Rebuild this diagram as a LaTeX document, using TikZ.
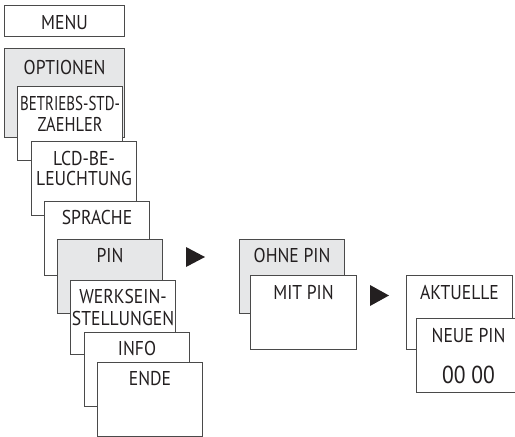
\documentclass[tikz,border=0pt]{standalone}
\usepackage{graphicx}
\usepackage{fontspec}
\setmainfont[FakeStretch=0.88]{PT Sans}
\definecolor{edge}{HTML}{4A4A4A}
\definecolor{panel}{HTML}{E6E7E8}
\definecolor{ink}{HTML}{231F20}
\begin{document}
\begin{tikzpicture}[x=1pt,y=-1pt,
  screen/.style={draw=edge, line width=1.1pt, fill=white, rectangle, inner sep=0pt, anchor=north west, minimum width=105pt, minimum height=74pt},
  shaded/.style={screen, fill=panel},
  lbl/.style={inner sep=0pt, anchor=base, text=ink, font=\fontsize{20}{20}\selectfont},
  big/.style={lbl, font=\fontsize{24.5}{24.5}\selectfont},
  tip/.style={fill=ink, draw=none}]
\useasboundingbox (0,0) rectangle (515,437);
% left column
\node[screen, minimum width=120pt, minimum height=31pt] (menu) at (4,5) {};
\node[lbl] (tmenu) at ([yshift=-24.3pt]menu.north) {MENU};
\node[shaded, minimum width=120pt, minimum height=89pt] (opt) at (4,48) {};
\node[lbl] (topt) at ([yshift=-26pt]opt.north) {OPTIONEN};
\node[screen] (betr) at (17,86) {};
\node[lbl] (tbetr1) at ([yshift=-24pt]betr.north) {\scalebox{0.85}[1]{BETRIEBS-STD-}};
\node[lbl] (tbetr2) at ([yshift=-45.7pt]betr.north) {\scalebox{0.93}[1]{ZAEHLER}};
\node[screen] (lcd) at (31,141) {};
\node[lbl] (tlcd1) at ([yshift=-24pt]lcd.north) {LCD-BE-};
\node[lbl] (tlcd2) at ([yshift=-44.7pt]lcd.north) {LEUCHTUNG};
\node[screen] (spr) at (44,201) {};
\node[lbl] (tspr) at ([yshift=-23.3pt]spr.north) {SPRACHE};
\node[shaded] (pin) at (57,239) {};
\node[lbl] (tpin) at ([yshift=-23.7pt]pin.north) {PIN};
\node[screen] (werk) at (70,280) {};
\node[lbl] (twerk1) at ([yshift=-23.3pt]werk.north) {WERKSEIN-};
\node[lbl] (twerk2) at ([yshift=-45.3pt]werk.north) {STELLUNGEN};
\node[screen] (info) at (84,332) {};
\node[lbl] (tinfo) at ([yshift=-23pt]info.north) {INFO};
\node[screen, minimum height=73.5pt] (ende) at (97,362) {};
\node[lbl] (tende) at ([yshift=-23pt]ende.north) {ENDE};
% arrow 1
\fill[tip] (186,247) -- (186,267) -- (205,257) -- cycle;
% middle column
\node[shaded] (ohne) at (239,239) {};
\node[lbl] (tohne) at ([yshift=-23.7pt]ohne.north) {OHNE PIN};
\node[screen, minimum width=106pt] (mit) at (250,275) {};
\node[lbl] (tmit) at ([yshift=-24pt]mit.north) {MIT PIN};
% arrow 2
\fill[tip] (370,285) -- (370,306) -- (389,295.5) -- cycle;
% right column
\node[screen, minimum width=106pt] (akt) at (406,275) {};
\node[lbl] (takt) at ([yshift=-24pt]akt.north) {AKTUELLE};
\node[screen, minimum width=104pt] (neue) at (416,318) {};
\node[lbl] (tneue) at ([yshift=-24.3pt]neue.north) {NEUE PIN};
\node[big] (tcode) at ([yshift=-65.3pt]neue.north) {00 00};
\end{tikzpicture}
\end{document}
